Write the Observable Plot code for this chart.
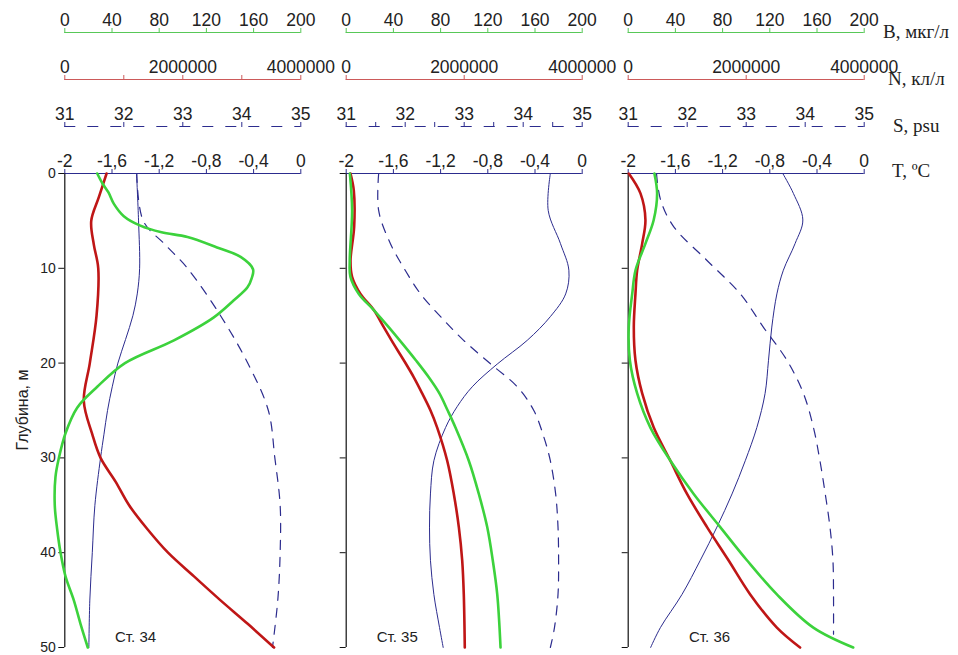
<!DOCTYPE html>
<html><head><meta charset="utf-8">
<script src="https://cdn.jsdelivr.net/npm/d3@7"></script>
<script src="https://cdn.jsdelivr.net/npm/@observablehq/plot@0.6"></script>
<style>
body{margin:0;background:#fff}
#wrap{position:relative;width:958px;height:655px;overflow:hidden;background:#fff}
#wrap svg{position:absolute;left:0;top:0;background:transparent}
.lbl{position:absolute;white-space:nowrap;line-height:1;color:#222}
.serif{font-family:'Liberation Serif','Times New Roman',serif;font-size:19px}
.sans{font-family:'Liberation Sans',Arial,sans-serif}
</style></head><body><div id="wrap"></div>
<script>
// ---- data: [depth (m), value] ----
const stations = ["Ст. 34", "Ст. 35", "Ст. 36"];
const depthTicks = [0, 10, 20, 30, 40, 50];
const tTicks = [-2, -1.6, -1.2, -0.8, -0.4, 0];
const sTicks = [31, 32, 33, 34, 35];
const sMinorTicks = [31.5, 32.5, 33.5, 34.5];
const nTicksFull = [0, 1000000, 2000000, 3000000, 4000000];
const nTicks = [0, 2000000, 4000000];
const bTicks = [0, 40, 80, 120, 160, 200];

const T34 = [[0,-1.392],[5,-1.375],[10,-1.366],[12.7,-1.386],[15,-1.423],[17.5,-1.485],[20,-1.55],[22.5,-1.598],[25,-1.638],[27.5,-1.668],[30,-1.697],[35,-1.745],[40,-1.767],[45,-1.788],[50,-1.796]];
const S34 = [[0,32.22],[5,32.33],[7.5,32.7],[10,33.08],[15,33.64],[20,34.1],[25,34.45],[30,34.56],[35,34.65],[40,34.65],[45,34.61],[50,34.52]];
const N34 = [[0,708000],[2.5,577000],[5,448000],[7.5,492000],[10,567000],[15,538000],[20,424000],[24,322000],[27.5,465000],[30,606000],[32.5,860000],[35,1090000],[37.5,1398000],[40,1750000],[42.5,2190000],[45,2635000],[47.5,3100000],[50,3547000]];
const B34 = [[0,27.5],[1,31.7],[2,37],[3.2,41.6],[4.5,50],[5.5,64],[6.2,82],[6.7,104],[7.8,129],[8.8,149],[10.1,159.5],[11,158.5],[12,154.8],[13.4,143],[15.2,126],[17.6,92.5],[20,51],[22.5,27.5],[24.7,10.5],[27.4,0.6],[30,-5],[32,-7.9],[35,-8.5],[37.5,-6.5],[40,-3.6],[42.5,0.6],[45,7.6],[47.5,13.3],[50,19.5]];

const T35 = [[0,-0.27],[3.9,-0.288],[7.4,-0.184],[10.2,-0.113],[12.7,-0.14],[15.1,-0.27],[17.6,-0.466],[20.1,-0.72],[22.5,-0.932],[24.6,-1.06],[26.8,-1.158],[30.3,-1.257],[33.8,-1.286],[37.3,-1.294],[40.8,-1.286],[44.4,-1.257],[47.9,-1.209],[50,-1.178]];
const S35 = [[0,31.55],[3.9,31.55],[7.4,31.75],[10.2,32.0],[12.7,32.26],[15.1,32.6],[17.6,32.99],[20.1,33.45],[22.5,33.9],[25,34.18],[27.8,34.35],[30.3,34.46],[33.8,34.55],[37.3,34.59],[40.8,34.6],[44.4,34.59],[47.9,34.53],[50,34.46]];
const N35 = [[0,73000],[1.8,129000],[5.6,135000],[9.2,73000],[10.9,100000],[12.7,242000],[14.4,468000],[16.2,637000],[18,807000],[19.7,976000],[21.5,1146000],[23.2,1288000],[25,1429000],[26.8,1542000],[30.3,1712000],[33.8,1824000],[37.3,1909000],[40.8,1966000],[44.4,1993000],[50,2010000]];
const B35 = [[0,3.1],[3.9,5],[9.2,3],[10.9,3.6],[12.7,10.7],[14.4,23.4],[16.2,36],[18,48],[19.7,59],[21.5,70],[23.2,79],[25,86],[26.8,92.6],[30.3,103.9],[33.8,112.4],[37.3,119.5],[40.8,124.2],[44.4,128],[50,130.8]];

const T36 = [[0,-0.69],[2.1,-0.6],[4.9,-0.52],[7.4,-0.586],[10.2,-0.685],[12.7,-0.74],[16.2,-0.783],[19.7,-0.811],[23.2,-0.84],[26.8,-0.91],[30.3,-1.008],[33.8,-1.12],[37.3,-1.248],[40.8,-1.389],[44.4,-1.544],[47.9,-1.727],[50,-1.81]];
const S36 = [[0,31.48],[2.8,31.55],[5.6,31.77],[9.2,32.34],[12.7,32.9],[16.2,33.29],[19.7,33.69],[23.2,33.97],[26.8,34.14],[30.3,34.25],[33.8,34.34],[37.3,34.42],[40.8,34.47],[44.4,34.48],[48.6,34.48]];
const N36 = [[0,10000],[2.1,208000],[4.9,292000],[7.4,237000],[10.2,152000],[12.7,123000],[16.2,95000],[19.7,123000],[23.2,237000],[26.8,433000],[30.3,715000],[33.8,997000],[37.3,1336000],[40.8,1700000],[44.4,2068000],[47.9,2520000],[50,2913000]];
const B36 = [[0,22.2],[2.1,24.5],[4.9,21.6],[7.4,14.6],[10.2,6.2],[12.7,3.4],[16.2,0.5],[19.7,1.4],[23.2,7.6],[26.8,18.8],[30.3,35.8],[33.8,55.5],[37.3,78],[40.8,100.6],[44.4,126],[47.9,156.9],[50,190.7]];

const seriesT = [T34, T35, T36];
const seriesS = [S34, S35, S36];
const seriesN = [N34, N35, N36];
const seriesB = [B34, B35, B36];

// ---- layout / style ----
const W = 958, H = 655, TOP = 173, BOTTOM = 647;
const panelLeft = [64.3, 345.7, 627.7];
const panelW = 236;
const navy = "#2c2c8e", green = "#3cd23c", greenAxis = "#58c858", red = "#bf1616", redAxis = "#cc5a5a";
const txt = "#222";
const wrap = document.getElementById("wrap");

function layer(p, domain, marks, yAxis) {
  const svg = Plot.plot({
    width: W, height: H,
    marginLeft: panelLeft[p], marginRight: W - panelLeft[p] - panelW,
    marginTop: TOP, marginBottom: H - BOTTOM,
    x: {domain},
    y: yAxis ? {domain: [0, 50], reverse: true} : {domain: [0, 50], reverse: true, axis: null},
    style: {background: "transparent", overflow: "visible", fontFamily: "'Liberation Sans', Arial, sans-serif", fontSize: "17px", color: txt},
    marks
  });
  wrap.appendChild(svg);
}
const ln = (data, o) => Plot.line(data, {x: d => d[1], y: d => d[0], curve: "catmull-rom", ...o});
const topAxis = (ticks, dy, stroke, fmt) => Plot.axisX(ticks, {anchor: "top", dy, tickSize: 5, tickPadding: 2, stroke, fill: txt, label: null, tickFormat: fmt, fontSize: 17.5});
const commaFmt = d => String(d).replace(".", ",");

for (let p = 0; p < 3; p++) {
  // T layer (with depth axis)
  layer(p, [-2, 0], [
    Plot.ruleY([0], {stroke: navy, strokeWidth: 1.2}),
    Plot.ruleX([-2], {stroke: "#111", strokeWidth: 1.2}),
    topAxis(tTicks, 0, navy, commaFmt),
    Plot.axisY(depthTicks, {anchor: "left", tickSize: 6, tickPadding: 3, stroke: "#111", fill: txt, label: null, fontSize: 14,
      tickFormat: p === 0 ? d => String(d) : () => ""}),
    ln(seriesT[p], {stroke: navy, strokeWidth: 1})
  ], true);
  // S layer
  const sMarks = [
    Plot.ruleY([0], {dy: -47, stroke: navy, strokeWidth: 1.2, strokeDasharray: "11,12"}),
    topAxis(sTicks, -47, navy, d => String(d))
  ];
  if (p === 1) sMarks.push(topAxis(sMinorTicks, -47, navy, () => ""));
  sMarks.push(ln(seriesS[p], {stroke: navy, strokeWidth: 1.2, strokeDasharray: "9,8"}));
  layer(p, [31, 35], sMarks, false);
  // N layer
  layer(p, [0, 4000000], [
    Plot.ruleY([0], {dy: -94, stroke: redAxis, strokeWidth: 1.2}),
    topAxis(p === 0 ? nTicksFull : nTicks, -94, redAxis, d => (d % 2000000 === 0 ? String(d) : "")),
    ln(seriesN[p], {stroke: red, strokeWidth: 2.6})
  ], false);
  // B layer
  layer(p, [0, 200], [
    Plot.ruleY([0], {dy: -141, stroke: greenAxis, strokeWidth: 1.2}),
    topAxis(bTicks, -141, greenAxis, d => String(d)),
    ln(seriesB[p], {stroke: green, strokeWidth: 2.6})
  ], false);
}

// ---- text labels ----
function label(text, cls, css) {
  const d = document.createElement("div");
  d.className = "lbl " + cls;
  d.textContent = text;
  Object.assign(d.style, css);
  wrap.appendChild(d);
}
label("B, мкг/л", "serif", {left: "883px", top: "21.5px"});
label("N, кл/л", "serif", {left: "888px", top: "69px"});
label("S, psu", "serif", {left: "893px", top: "116px"});
label("T, ºC", "serif", {left: "892px", top: "161px"});
const stationOffset = [50.7, 31, 61.3];
stations.forEach((s, i) => label(s, "sans", {left: (panelLeft[i] + stationOffset[i]) + "px", top: "629px", fontSize: "15px"}));
label("Глубина, м", "sans", {left: "23px", top: "410px", fontSize: "16px", transform: "translate(-50%,-50%) rotate(-90deg)"});
</script></body></html>
